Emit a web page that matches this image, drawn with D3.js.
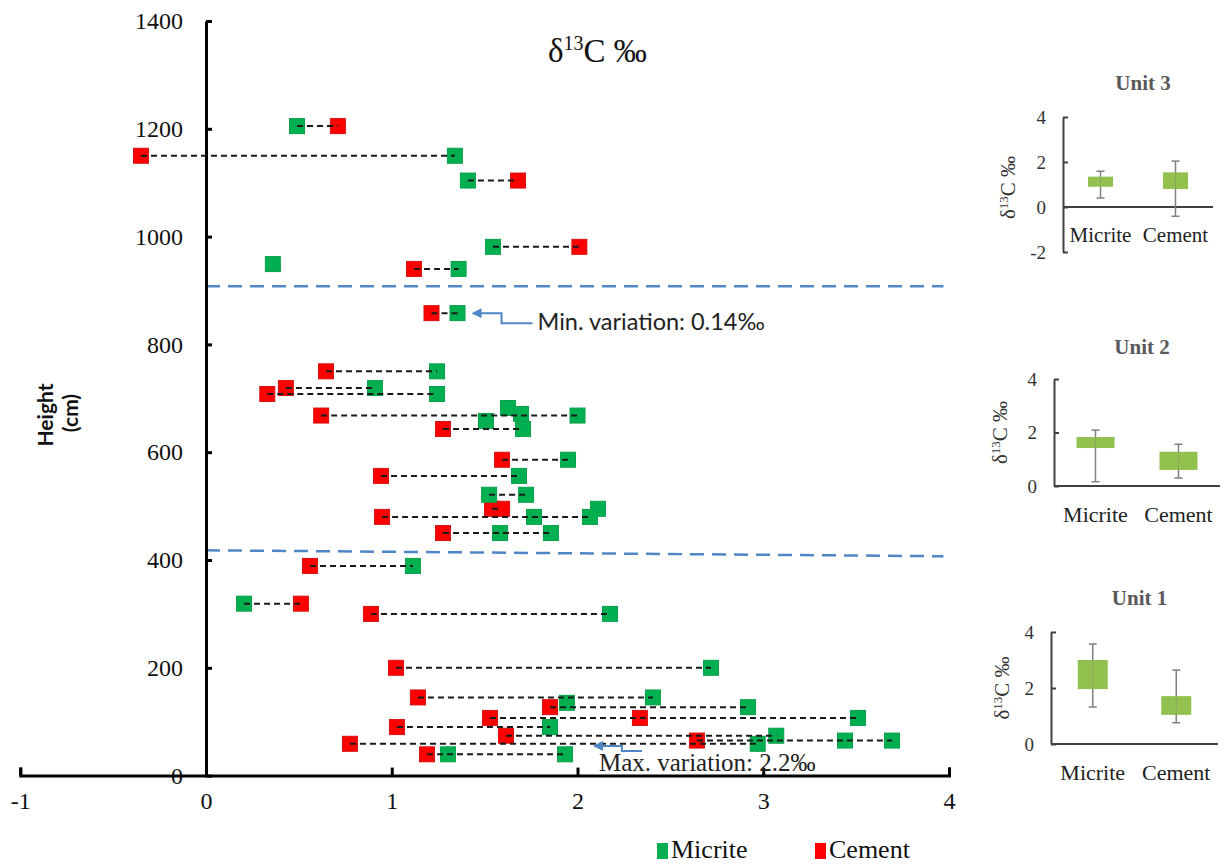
<!DOCTYPE html>
<html>
<head>
<meta charset="utf-8">
<script src="https://cdn.jsdelivr.net/npm/d3@7"></script>
<style>
  body { margin: 0; background: #fff; }
  svg { display: block; }
  text { font-family: "Liberation Serif", "Times New Roman", serif; }
</style>
</head>
<body>
<svg id="chart" width="1229" height="868"></svg>
<script>
// ---- data ----------------------------------------------------------------
// one row per sampled height (cm); d13C values in permil
const samples = [
  { h: 1205, micrite: [0.49], cement: [0.71] },
  { h: 1150, micrite: [1.34], cement: [-0.35] },
  { h: 1104, micrite: [1.41], cement: [1.68] },
  { h: 981, micrite: [1.545], cement: [2.01] },
  { h: 949, micrite: [0.36], cement: [] },
  { h: 940, micrite: [1.36], cement: [1.12] },
  { h: 858, micrite: [1.354], cement: [1.214] },
  { h: 750, micrite: [1.244], cement: [0.646] },
  { h: 719, micrite: [0.91], cement: [0.43] },
  { h: 708, micrite: [1.244], cement: [0.33] },
  { h: 682, micrite: [1.626], cement: [] },
  { h: 671, micrite: [1.696], cement: [] },
  { h: 668, micrite: [2.0], cement: [0.62] },
  { h: 658, micrite: [1.507], cement: [] },
  { h: 643, micrite: [1.707], cement: [1.276] },
  { h: 586, micrite: [1.949], cement: [1.594] },
  { h: 556, micrite: [1.685], cement: [0.942] },
  { h: 521, micrite: [1.524, 1.723], cement: [] },
  { h: 495, micrite: [], cement: [1.54, 1.594] },
  { h: 495, micrite: [2.11], cement: [] },
  { h: 480, micrite: [1.766, 2.067], cement: [0.948] },
  { h: 450, micrite: [1.583, 1.857], cement: [1.276] },
  { h: 389, micrite: [1.114], cement: [0.56] },
  { h: 319, micrite: [0.205], cement: [0.511] },
  { h: 300, micrite: [2.175], cement: [0.888] },
  { h: 200, micrite: [2.719], cement: [1.023] },
  { h: 145, micrite: [2.406], cement: [1.141] },
  { h: 135, micrite: [1.943], cement: [] },
  { h: 127, micrite: [2.918], cement: [1.852] },
  { h: 107, micrite: [3.51], cement: [1.529, 2.336] },
  { h: 90, micrite: [1.852], cement: [1.028] },
  { h: 74, micrite: [3.07], cement: [1.615] },
  { h: 65, micrite: [3.44, 3.693], cement: [2.643] },
  { h: 59, micrite: [2.97], cement: [0.775] },
  { h: 39.5, micrite: [1.303, 1.933], cement: [1.19] },
];

const xTicks = [-1, 0, 1, 2, 3, 4];
const yTicks = [0, 200, 400, 600, 800, 1000, 1200, 1400];

// unit boundaries (blue dashed), height at left and right end
const boundaryLeftH = [908, 418];
const boundaryRightH = [908, 407];
const boundaryEndX = 3.97;

const seriesNames = ['Micrite', 'Cement'];
const seriesColors = ['#00b050', '#ff0000'];

// box plots: [min, q1, q3, max] for Micrite, Cement
const unitNames = ['Unit 3', 'Unit 2', 'Unit 1'];
const unit3Stats = [[0.40, 0.90, 1.35, 1.59], [-0.41, 0.80, 1.54, 2.04]];
const unit2Stats = [[0.16, 1.42, 1.83, 2.09], [0.30, 0.60, 1.28, 1.56]];
const unit1Stats = [[1.32, 1.96, 3.00, 3.57], [0.76, 1.04, 1.71, 2.64]];
const unit3Ticks = [-2, 0, 2, 4];
const unit12Ticks = [0, 2, 4];

// ---- main chart -----------------------------------------------------------
const svg = d3.select('#chart');
svg.append('rect').attr('width', 1229).attr('height', 868).attr('fill', '#fff');

const x = d3.scaleLinear().domain([-1, 4]).range([20.25, 949]);
const y = d3.scaleLinear().domain([0, 1400]).range([775.6, 21]);
const sq = 15;

// unit boundaries
svg.append('g')
  .selectAll('line')
  .data(boundaryLeftH)
  .enter()
  .append('line')
  .attr('x1', x(0))
  .attr('x2', x(boundaryEndX))
  .attr('y1', d => y(d))
  .attr('y2', (d, i) => y(boundaryRightH[i]))
  .attr('stroke', '#4f86c6')
  .attr('stroke-width', 2.5)
  .attr('stroke-dasharray', '14,8');

// y axis
const yAxisG = svg.append('g')
  .attr('transform', `translate(${x(0)},0)`)
  .call(d3.axisLeft(y).tickValues(yTicks).tickSizeInner(-6).tickSizeOuter(0).tickPadding(23).tickFormat(String));
yAxisG.select('.domain').attr('stroke', '#000').attr('stroke-width', 3);
yAxisG.selectAll('.tick line').attr('stroke', '#000').attr('stroke-width', 3);
yAxisG.selectAll('.tick text')
  .attr('fill', '#111')
  .style('font-family', '"Liberation Serif", serif')
  .style('font-size', '24px');

// x axis
const xAxisG = svg.append('g')
  .attr('transform', `translate(0,${y(0)})`)
  .call(d3.axisBottom(x).tickValues(xTicks).tickSizeInner(-8).tickSizeOuter(-8).tickPadding(16).tickFormat(String));
xAxisG.select('.domain').attr('stroke', '#000').attr('stroke-width', 3);
xAxisG.selectAll('.tick line').attr('stroke', '#000').attr('stroke-width', 3);
xAxisG.selectAll('.tick text')
  .attr('fill', '#111')
  .style('font-family', '"Liberation Serif", serif')
  .style('font-size', '24px');

// markers: cement first, micrite on top
const markG = svg.append('g');
const cementPts = samples.flatMap(s => s.cement.map(v => ({ h: s.h, v })));
const micritePts = samples.flatMap(s => s.micrite.map(v => ({ h: s.h, v })));

markG.selectAll('rect.cement')
  .data(cementPts)
  .enter()
  .append('rect')
  .attr('class', 'cement')
  .attr('x', d => x(d.v) - sq / 2)
  .attr('y', d => y(d.h) - sq / 2)
  .attr('width', sq)
  .attr('height', sq)
  .attr('fill', seriesColors[1])
  .attr('stroke', '#d81010')
  .attr('stroke-width', 1);

markG.selectAll('rect.micrite')
  .data(micritePts)
  .enter()
  .append('rect')
  .attr('class', 'micrite')
  .attr('x', d => x(d.v) - sq / 2)
  .attr('y', d => y(d.h) - sq / 2)
  .attr('width', sq)
  .attr('height', sq)
  .attr('fill', seriesColors[0])
  .attr('stroke', '#07a04a')
  .attr('stroke-width', 1);

// dashed tie lines drawn over the markers
const tied = samples.filter(s => s.micrite.length + s.cement.length > 1);
svg.append('g')
  .selectAll('line')
  .data(tied)
  .enter()
  .append('line')
  .attr('x1', s => x(d3.min(s.micrite.concat(s.cement))))
  .attr('x2', s => x(d3.max(s.micrite.concat(s.cement))))
  .attr('y1', s => y(s.h))
  .attr('y2', s => y(s.h))
  .attr('stroke', '#1a1a1a')
  .attr('stroke-width', 2)
  .attr('stroke-dasharray', '6,4');

// title
const title = svg.append('text')
  .attr('x', 548)
  .attr('y', 62)
  .style('font-size', '33px')
  .attr('fill', '#111');
title.append('tspan').text('δ');
title.append('tspan').attr('dy', -12).style('font-size', '20px').text('13');
title.append('tspan').attr('dy', 12).text('C ‰');

// y axis title
svg.append('text')
  .attr('transform', 'translate(53,415) rotate(-90)')
  .attr('text-anchor', 'middle')
  .style('font-family', 'Lato, "Open Sans", sans-serif')
  .style('font-weight', 700)
  .style('font-size', '21px')
  .attr('fill', '#111')
  .text('Height');
svg.append('text')
  .attr('transform', 'translate(78,413) rotate(-90)')
  .attr('text-anchor', 'middle')
  .style('font-family', 'Lato, "Open Sans", sans-serif')
  .style('font-weight', 700)
  .style('font-size', '21px')
  .attr('fill', '#111')
  .text('(cm)');

// annotations
const minRow = samples[6];
const tipX = x(d3.max(minRow.micrite)) + 19;
const tipY = y(minRow.h);
const arrowColor = '#4f86c6';
svg.append('defs').append('marker')
  .attr('id', 'ah')
  .attr('viewBox', '0 0 10 10')
  .attr('refX', 1)
  .attr('refY', 5)
  .attr('markerWidth', 5)
  .attr('markerHeight', 5)
  .attr('orient', 'auto-start-reverse')
  .append('path')
  .attr('d', 'M0,0 L10,5 L0,10 z')
  .attr('fill', arrowColor);

svg.append('path')
  .attr('d', `M${tipX + 56},${tipY + 10} H${tipX + 25} V${tipY} H${tipX + 4}`)
  .attr('fill', 'none')
  .attr('stroke', arrowColor)
  .attr('stroke-width', 2)
  .attr('marker-end', 'url(#ah)');
svg.append('text')
  .attr('x', tipX + 61)
  .attr('y', tipY + 17)
  .style('font-family', 'Lato, "Open Sans", sans-serif')
  .style('font-size', '23.5px')
  .attr('fill', '#222')
  .text('Min. variation: 0.14‰');

const maxTipX = x(2.11);
const maxTipY = y(55);
svg.append('path')
  .attr('d', `M${maxTipX + 44},${maxTipY + 5} H${maxTipX + 24} V${maxTipY} H${maxTipX + 4}`)
  .attr('fill', 'none')
  .attr('stroke', arrowColor)
  .attr('stroke-width', 2)
  .attr('marker-end', 'url(#ah)');
svg.append('text')
  .attr('x', maxTipX + 1)
  .attr('y', y(8))
  .style('font-size', '25px')
  .attr('fill', '#222')
  .text('Max. variation: 2.2‰');

// legend
const legend = svg.append('g')
  .selectAll('g')
  .data(seriesNames)
  .enter()
  .append('g')
  .attr('transform', (d, i) => `translate(${657 + i * 158},843)`);
legend.append('rect')
  .attr('width', 11)
  .attr('height', 16)
  .attr('fill', (d, i) => seriesColors[i]);
legend.append('text')
  .attr('x', 14)
  .attr('y', 15)
  .style('font-size', '26px')
  .attr('fill', '#111')
  .text(d => d);

// ---- inset box plots ------------------------------------------------------
const insets = [
  { stats: unit3Stats, ticks: unit3Ticks, domain: [-2, 4], top: 117, bottom: 252, left: 1063, right: 1213, titleY: 90, catY: 242, labelX: 1015, boxW: 25, catSize: 21 },
  { stats: unit2Stats, ticks: unit12Ticks, domain: [0, 4], top: 379, bottom: 486, left: 1054, right: 1220, titleY: 354, catY: 522, labelX: 1007, boxW: 38, catSize: 22 },
  { stats: unit1Stats, ticks: unit12Ticks, domain: [0, 4], top: 632, bottom: 744, left: 1051, right: 1218, titleY: 605, catY: 780, labelX: 1009, boxW: 30, catSize: 22 },
];

insets.forEach((cfg, k) => {
  const g = svg.append('g');
  const ys = d3.scaleLinear().domain(cfg.domain).range([cfg.bottom, cfg.top]);
  const xs = d3.scalePoint().domain(seriesNames).range([cfg.left, cfg.right]).padding(0.5);

  g.append('text')
    .attr('x', (cfg.left + cfg.right) / 2 + 5)
    .attr('y', cfg.titleY)
    .attr('text-anchor', 'middle')
    .style('font-size', '21px')
    .style('font-weight', 700)
    .attr('fill', '#595959')
    .text(unitNames[k]);

  const ax = g.append('g')
    .attr('transform', `translate(${cfg.left},0)`)
    .call(d3.axisLeft(ys).tickValues(cfg.ticks).tickSizeInner(-5).tickSizeOuter(0).tickPadding(17).tickFormat(String));
  ax.select('.domain').attr('stroke', '#404040').attr('stroke-width', 2);
  ax.selectAll('.tick line').attr('stroke', '#404040').attr('stroke-width', 2);
  ax.selectAll('.tick text')
    .attr('fill', '#333')
    .style('font-family', '"Liberation Serif", serif')
    .style('font-size', '19px');

  // category axis at zero
  g.append('line')
    .attr('x1', cfg.left)
    .attr('x2', cfg.right)
    .attr('y1', ys(0))
    .attr('y2', ys(0))
    .attr('stroke', '#404040')
    .attr('stroke-width', 2);

  const cats = g.selectAll('g.cat')
    .data(cfg.stats)
    .enter()
    .append('g')
    .attr('class', 'cat');

  cats.append('line')
    .attr('x1', (d, i) => xs(seriesNames[i]))
    .attr('x2', (d, i) => xs(seriesNames[i]))
    .attr('y1', d => ys(d[0]))
    .attr('y2', d => ys(d[3]))
    .attr('stroke', '#808080')
    .attr('stroke-width', 1.5);
  [0, 3].forEach(j => {
    cats.append('line')
      .attr('x1', (d, i) => xs(seriesNames[i]) - 4)
      .attr('x2', (d, i) => xs(seriesNames[i]) + 4)
      .attr('y1', d => ys(d[j]))
      .attr('y2', d => ys(d[j]))
      .attr('stroke', '#808080')
      .attr('stroke-width', 1.5);
  });
  cats.append('rect')
    .attr('x', (d, i) => xs(seriesNames[i]) - cfg.boxW / 2)
    .attr('y', d => ys(d[2]))
    .attr('width', cfg.boxW)
    .attr('height', d => ys(d[1]) - ys(d[2]))
    .attr('fill', '#92c150');
  // whisker passes over box like the original
  cats.append('line')
    .attr('x1', (d, i) => xs(seriesNames[i]))
    .attr('x2', (d, i) => xs(seriesNames[i]))
    .attr('y1', d => ys(d[1]))
    .attr('y2', d => ys(d[2]))
    .attr('stroke', '#8aa860')
    .attr('stroke-width', 1);

  g.selectAll('text.cat')
    .data(seriesNames)
    .enter()
    .append('text')
    .attr('class', 'cat')
    .attr('x', d => xs(d))
    .attr('y', cfg.catY)
    .attr('text-anchor', 'middle')
    .style('font-size', cfg.catSize + 'px')
    .attr('fill', '#222')
    .text(d => d);

  const lbl = g.append('text')
    .attr('transform', `translate(${cfg.labelX},${(cfg.top + cfg.bottom) / 2 + (k === 0 ? 3 : 0)}) rotate(-90)`)
    .attr('text-anchor', 'middle')
    .style('font-size', '21px')
    .attr('fill', '#333');
  lbl.append('tspan').text('δ');
  lbl.append('tspan').attr('dy', -7).style('font-size', '13px').text('13');
  lbl.append('tspan').attr('dy', 7).text('C ‰');
});
</script>
</body>
</html>
